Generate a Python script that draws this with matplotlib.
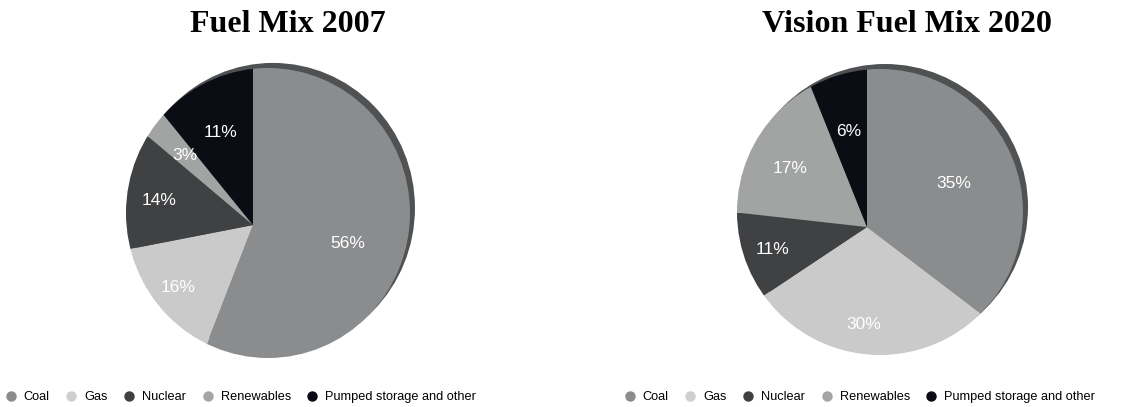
import matplotlib
matplotlib.use("Agg")
import matplotlib.pyplot as plt
from matplotlib.lines import Line2D
from matplotlib.patches import Ellipse
from matplotlib.path import Path

categories = ["Coal", "Gas", "Nuclear", "Renewables", "Pumped storage and other"]
values_2007 = [56, 16, 14, 3, 11]
values_2020 = [35, 30, 11, 17, 6]
titles = ["Fuel Mix 2007", "Vision Fuel Mix 2020"]
colors = ["#8a8c8e", "#cacaca", "#404143", "#a2a3a3", "#0b0d14"]
legend_colors = ["#8c8c8c", "#cfcfcf", "#404040", "#a5a5a5", "#0a0a14"]

W, H = 1144, 407
fig = plt.figure(figsize=(W / 100, H / 100), dpi=100)

# disc extents in pixels (left, top, width, height) and perspective apex offsets
axes_px = [(126, 68, 284, 290), (737, 69, 286, 286)]
apex = [(-0.106, -0.083), (-0.091, -0.105)]
title_x = [288, 907]
legend_x = [241, 860]
R = 1.35

for vals, (x0, y0, w, h), (ax_, ay_), title, tx, lx in zip(
        [values_2007, values_2020], axes_px, apex, titles, title_x, legend_x):
    ax = fig.add_axes([x0 / W, 1 - (y0 + h) / H, w / W, h / H])
    wedges, texts = ax.pie(vals, colors=colors, startangle=90, counterclock=False,
                           center=(ax_, ay_), radius=R,
                           labels=[f"{v}%" for v in vals], labeldistance=0.68 / R,
                           frame=True,
                           wedgeprops=dict(linewidth=0, zorder=1),
                           textprops=dict(color="white", fontsize=12.5, family="Liberation Sans"))
    ax.set_xlim(-1.0, 1.0)
    ax.set_ylim(-1.0, 1.0)
    ax.set_aspect("auto")
    ax.axis("off")
    # 3D rim shadow
    ax.add_patch(Ellipse((0.035, 0.035), 2.0, 2.0, facecolor="#4f5152",
                         edgecolor="none", zorder=0, clip_on=False))
    circle = Path.unit_circle()
    for wd in wedges:
        wd.set_clip_on(True)
        wd.set_clip_path(circle, ax.transData)
    for t in texts:
        t.set_ha("center")
        t.set_va("center")
        t.set_zorder(3)
    fig.text(tx / W, 1 - 32 / H, title, ha="center", va="baseline", fontsize=23,
             fontweight="bold", family="Liberation Serif")
    handles = [Line2D([], [], marker="o", linestyle="none", markersize=7.5,
                      markerfacecolor=c, markeredgecolor="none") for c in legend_colors]
    fig.legend(handles, categories, loc="center", bbox_to_anchor=(lx / W, 1 - 397 / H),
               ncol=5, frameon=False, handlelength=0.8, handletextpad=0.6,
               columnspacing=1.3, prop=dict(family="Liberation Sans", size=9.2))

fig.savefig("out.png", dpi=100, facecolor="white")
